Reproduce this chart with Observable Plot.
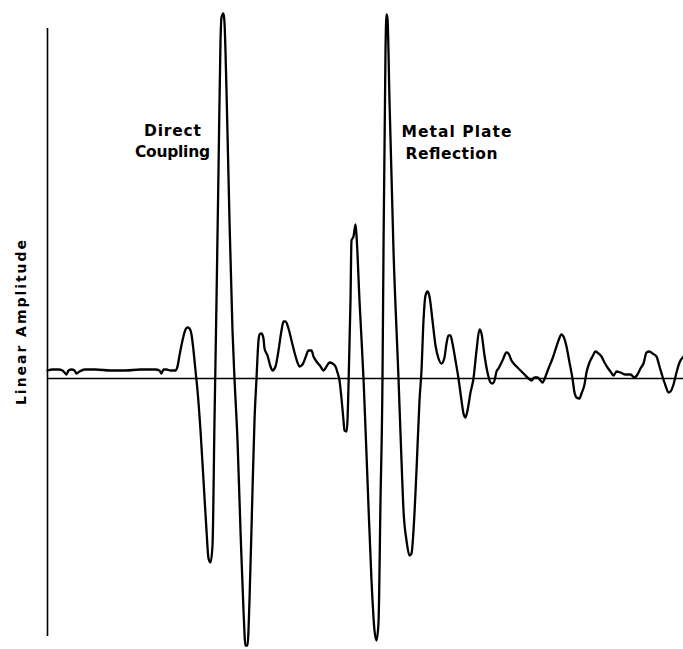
<!DOCTYPE html>
<html>
<head>
<meta charset="utf-8">
<script src="https://cdn.jsdelivr.net/npm/d3@7"></script>
<script src="https://cdn.jsdelivr.net/npm/@observablehq/plot@0.6"></script>
<style>
  html, body { margin: 0; padding: 0; background: #fff; }
  #chart svg { display: block; }
</style>
</head>
<body>
<div id="chart"></div>
<script>
// Time (arbitrary units) and linear amplitude (arbitrary units)
const time = [0,5,11,15,17,19,21,24,27,29,32,37,48,63,78,93,108,112,114,116,119,123,128,130,132,135,138,140,142,144,146,148,150,153,156,159,161,163,165,167,169,171,173,174,176,177,179,182,185,187,190,193,196,198,200,202,205,207,209,211,212,214,216,217,220,223,225,228,231,234,236,238,241,244,247,250,252,255,258,261,264,266,269,273,276,279,282,285,288,290,292,294,296,297,299,300,301,303,304,306,308,309,312,316,320,324,327,329,331,333,335,336,338,339,340,342,346,351,354,356,359,362,364,366,369,372,374,376,378,380,382,385,388,391,394,397,399,401,403,405,408,411,414,416,418,420,423,426,429,432,434,437,440,443,445,447,449,451,455,459,461,464,467,470,473,477,481,484,487,490,493,495,498,501,505,508,511,514,516,519,522,525,527,529,532,534,537,539,542,545,548,551,554,557,560,563,566,569,573,578,583,587,590,593,596,599,602,605,609,612,615,618,621,623,626,629,632,636];
const amplitude = [8,9,9,8,6,4,8,9,8,5,7,9,9,8,8,9,9,8,5,9,9,8,8,12,23,38,49,51,50,44,28,8,-12,-52,-102,-152,-180,-184,-167,-42,78,208,338,361,365,356,288,158,48,0,-62,-152,-232,-267,-267,-222,-112,-42,0,38,44,45,40,30,23,12,8,12,28,48,57,57,50,38,26,16,12,14,21,28,28,22,17,12,8,12,16,15,12,6,-2,-20,-42,-52,-53,-42,-7,78,138,142,154,143,78,0,-102,-202,-252,-262,-244,-122,0,128,328,364,360,278,128,0,-82,-132,-162,-177,-175,-152,-92,-22,8,58,83,87,82,58,33,20,15,21,35,43,43,35,18,0,-22,-35,-39,-32,-14,0,28,49,45,23,6,-4,-5,-2,7,10,18,26,25,18,14,11,8,4,0,-2,1,1,-2,-4,2,10,20,29,38,44,42,32,16,0,-14,-19,-20,-15,-6,6,16,22,27,25,22,16,11,7,3,7,6,4,4,1,4,10,15,26,27,25,22,12,2,-7,-14,-13,-6,6,16,22];

// Annotation text
const annotations = ["Direct", "Coupling", "Metal Plate", "Reflection"];
const annotationTime = [125, 125, 409, 404];
const annotationAmp = [247, 226, 246, 224];
const yLabel = "Linear Amplitude";

const trace = time.map((t, i) => ({t, a: amplitude[i]}));
const notes = annotations.map((text, i) => ({text, t: annotationTime[i], a: annotationAmp[i]}));

const chart = Plot.plot({
  width: 683,
  height: 649,
  marginLeft: 47,
  marginRight: 0,
  marginTop: 0,
  marginBottom: 0,
  x: {domain: [0, 636], axis: null},
  y: {domain: [-271, 378], axis: null},
  style: {background: "#fff", color: "#000", fontFamily: "'DejaVu Sans', sans-serif"},
  marks: [
    Plot.ruleX([0], {y1: 350, y2: -258, stroke: "#000", strokeWidth: 1.6}),
    Plot.ruleY([0], {stroke: "#000", strokeWidth: 1.6}),
    Plot.line(trace, {x: "t", y: "a", stroke: "#000", strokeWidth: 2.3, curve: "monotone-x", strokeLinejoin: "round"}),
    Plot.text(notes, {x: "t", y: "a", text: "text", fontSize: 15.5, fontWeight: "bold", fill: "#000", textAnchor: "middle"}),
    Plot.text([yLabel], {x: -26, y: 56, text: d => d, rotate: -90, fontSize: 14, fontWeight: "bold", fill: "#000", textAnchor: "middle"})
  ]
});

// Stretch the lettering to the widths of the original stencil lettering
const textWidths = {"Direct": 57, "Coupling": 75, "Metal Plate": 110, "Reflection": 92, "Linear Amplitude": 165};
d3.select(chart).selectAll("text").each(function() {
  const w = textWidths[this.textContent];
  if (w) d3.select(this).attr("textLength", w).attr("lengthAdjust", "spacing");
});
document.getElementById("chart").appendChild(chart);
</script>
</body>
</html>
